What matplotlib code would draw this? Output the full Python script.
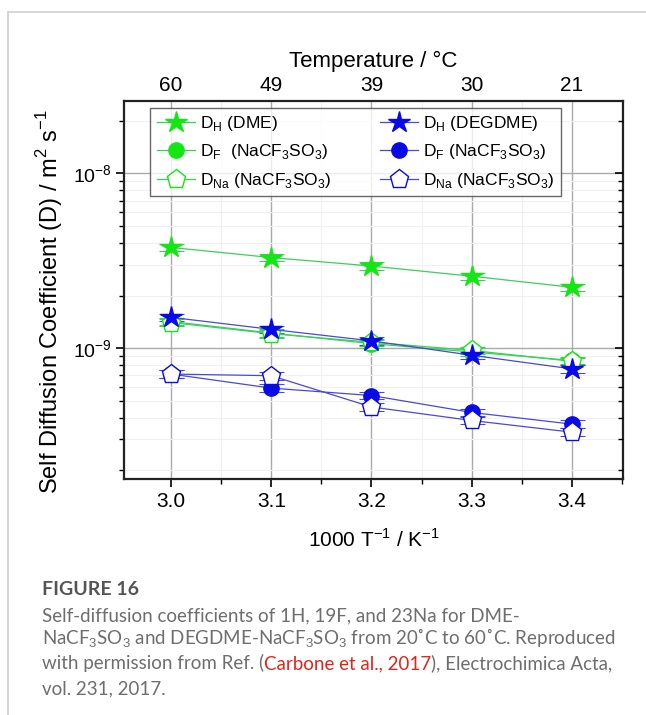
import matplotlib
matplotlib.use("Agg")
import matplotlib.pyplot as plt
from matplotlib.patches import Rectangle
from matplotlib.ticker import LogLocator, NullFormatter, MultipleLocator

# inverse temperature (1000/T) and top-axis temperatures
inv_T = [3.0, 3.1, 3.2, 3.3, 3.4]
temp_labels = ["60", "49", "39", "30", "21"]

# self-diffusion coefficients / m^2 s^-1
dh_dme = [3.77e-9, 3.30e-9, 2.95e-9, 2.58e-9, 2.23e-9]
df_dme = [1.42e-9, 1.22e-9, 1.06e-9, 9.5e-10, 8.5e-10]
dna_dme = [1.40e-9, 1.21e-9, 1.08e-9, 9.7e-10, 8.4e-10]
dh_degdme = [1.50e-9, 1.28e-9, 1.10e-9, 9.1e-10, 7.6e-10]
df_degdme = [7.1e-10, 5.9e-10, 5.35e-10, 4.28e-10, 3.67e-10]
dna_degdme = [7.1e-10, 6.95e-10, 4.6e-10, 3.85e-10, 3.3e-10]

green = "#14e614"
blue = "#0a0ae6"
gline = "#3ccf5a"
bline = "#4a4ad0"

plt.rcParams["font.family"] = ["Liberation Sans", "DejaVu Sans"]
plt.rcParams["mathtext.fontset"] = "custom"
plt.rcParams["mathtext.rm"] = "Liberation Sans"

fig = plt.figure(figsize=(6.46, 7.15), dpi=100)
# light card border (left and top edges visible)
fig.add_artist(plt.Line2D([8 / 646, 8 / 646], [0, 1 - 12 / 715], color="#d0d0d0",
                          linewidth=1.2, transform=fig.transFigure))
fig.add_artist(plt.Line2D([8 / 646, 1], [1 - 12 / 715, 1 - 12 / 715], color="#d0d0d0",
                          linewidth=1.2, transform=fig.transFigure))

ax = fig.add_axes([124 / 646, 1 - 479 / 715, (623 - 124) / 646, (479 - 101) / 715])

series = [
    (dh_dme, green, gline, "*", 16, green, r"D$_\mathrm{H}$ (DME)"),
    (df_dme, green, gline, "o", 11, green, r"D$_\mathrm{F}$  (NaCF$_3$SO$_3$)"),
    (dna_dme, green, gline, "p", 14, "white", r"D$_\mathrm{Na}$ (NaCF$_3$SO$_3$)"),
    (dh_degdme, blue, bline, "*", 16, blue, r"D$_\mathrm{H}$ (DEGDME)"),
    (df_degdme, blue, bline, "o", 11, blue, r"D$_\mathrm{F}$ (NaCF$_3$SO$_3$)"),
    (dna_degdme, blue, bline, "p", 14, "white", r"D$_\mathrm{Na}$ (NaCF$_3$SO$_3$)"),
]

handles = []
for vals, col, lcol, mk, ms, fc, lab in series:
    err = [v * 0.05 for v in vals]
    ax.errorbar(inv_T, vals, yerr=err, fmt="none", ecolor=lcol, elinewidth=0.8,
                capsize=9, capthick=0.8, zorder=2)
    h, = ax.plot(inv_T, vals, color=lcol, linewidth=0.9, marker=mk, markersize=ms,
                 markerfacecolor=fc, markeredgecolor=col, markeredgewidth=1.0,
                 label=lab, zorder=3)
    handles.append(h)

ax.set_yscale("log")
ax.set_ylim(1.78e-10, 2.6e-8)
ax.set_xlim(2.953, 3.451)
ax.xaxis.set_minor_locator(MultipleLocator(0.05))
ax.set_xticks(inv_T)
ax.set_xticklabels(["3.0", "3.1", "3.2", "3.3", "3.4"])
ax.yaxis.set_major_locator(LogLocator(base=10, numticks=10))
ax.yaxis.set_minor_locator(LogLocator(base=10, subs=range(2, 10), numticks=20))
ax.yaxis.set_minor_formatter(NullFormatter())

ax.grid(True, which="major", color="#aaaaaa", linewidth=1.0)
ax.grid(True, which="minor", color="#f0f0f0", linewidth=0.8)
ax.set_axisbelow(True)

for s in ax.spines.values():
    s.set_linewidth(1.6)
    s.set_color("#222222")

ax.tick_params(axis="both", which="both", direction="out", top=False, right=False,
               labelsize=15)
ax.tick_params(axis="y", labelsize=14, pad=3)
ax.tick_params(axis="both", which="major", length=6, width=1.2)
ax.tick_params(axis="both", which="minor", length=3.5, width=1.0)

# right-hand ticks point inward
rax = ax.twinx()
rax.set_yscale("log")
rax.set_ylim(ax.get_ylim())
rax.yaxis.set_major_locator(LogLocator(base=10, numticks=10))
rax.yaxis.set_minor_locator(LogLocator(base=10, subs=range(2, 10), numticks=20))
rax.tick_params(axis="y", which="both", direction="in", labelright=False)
rax.tick_params(axis="y", which="major", length=6, width=1.2)
rax.tick_params(axis="y", which="minor", length=3.5, width=1.0)
for s in rax.spines.values():
    s.set_visible(False)

ax.set_xlabel(r"1000 T$^{-1}$ / K$^{-1}$", fontsize=15, labelpad=12)
ax.set_ylabel(r"Self Diffusion Coefficient (D) / m$^2$ s$^{-1}$", fontsize=17)
ax.yaxis.set_label_coords(-0.118, 0.47)

top = ax.twiny()
top.set_xlim(ax.get_xlim())
top.set_xticks(inv_T)
top.set_xticklabels(temp_labels)
top.tick_params(axis="x", length=0, labelsize=15, pad=4)
top.set_xlabel("Temperature / °C", fontsize=16, labelpad=7)
for s in top.spines.values():
    s.set_visible(False)

leg = ax.legend(handles, [h.get_label() for h in handles],
                ncol=2, loc="upper left", bbox_to_anchor=(0.053, 0.982),
                borderaxespad=0, fontsize=12.5,
                frameon=True, fancybox=False, edgecolor="#444444", handlelength=2.2,
                handletextpad=0.3, columnspacing=2.8, labelspacing=0.55,
                borderpad=0.35)
leg.get_frame().set_linewidth(1.0)

cap_font = ["Lato", "DejaVu Sans"]
cap_kw = dict(fontsize=13.5, color="#6e6e6e", family=cap_font, va="baseline")
fig.text(42 / 646, 1 - 595 / 715, "FIGURE 16", fontsize=14, fontweight="bold",
         color="#555555", family=cap_font, va="baseline")
base = [621, 645, 669, 694]
fig.text(42 / 646, 1 - base[0] / 715,
         "Self-diffusion coefficients of 1H, 19F, and 23Na for DME-", **cap_kw)
fig.text(42 / 646, 1 - base[1] / 715,
         "NaCF$_3$SO$_3$ and DEGDME-NaCF$_3$SO$_3$ from 20˚C to 60˚C. Reproduced",
         **cap_kw)
fig.text(42 / 646, 1 - base[3] / 715, "vol. 231, 2017.", **cap_kw)
t1 = fig.text(42 / 646, 1 - base[2] / 715, "with permission from Ref. (", **cap_kw)
fig.canvas.draw()
r = fig.canvas.get_renderer()
bb = t1.get_window_extent(r)
red_kw = dict(cap_kw, color="#e0261c")
t2 = fig.text(bb.x1 / fig.bbox.width, 1 - base[2] / 715, "Carbone et al., 2017", **red_kw)
bb2 = t2.get_window_extent(r)
fig.text(bb2.x1 / fig.bbox.width, 1 - base[2] / 715, "), Electrochimica Acta,", **cap_kw)

fig.savefig("out.png", dpi=100)
